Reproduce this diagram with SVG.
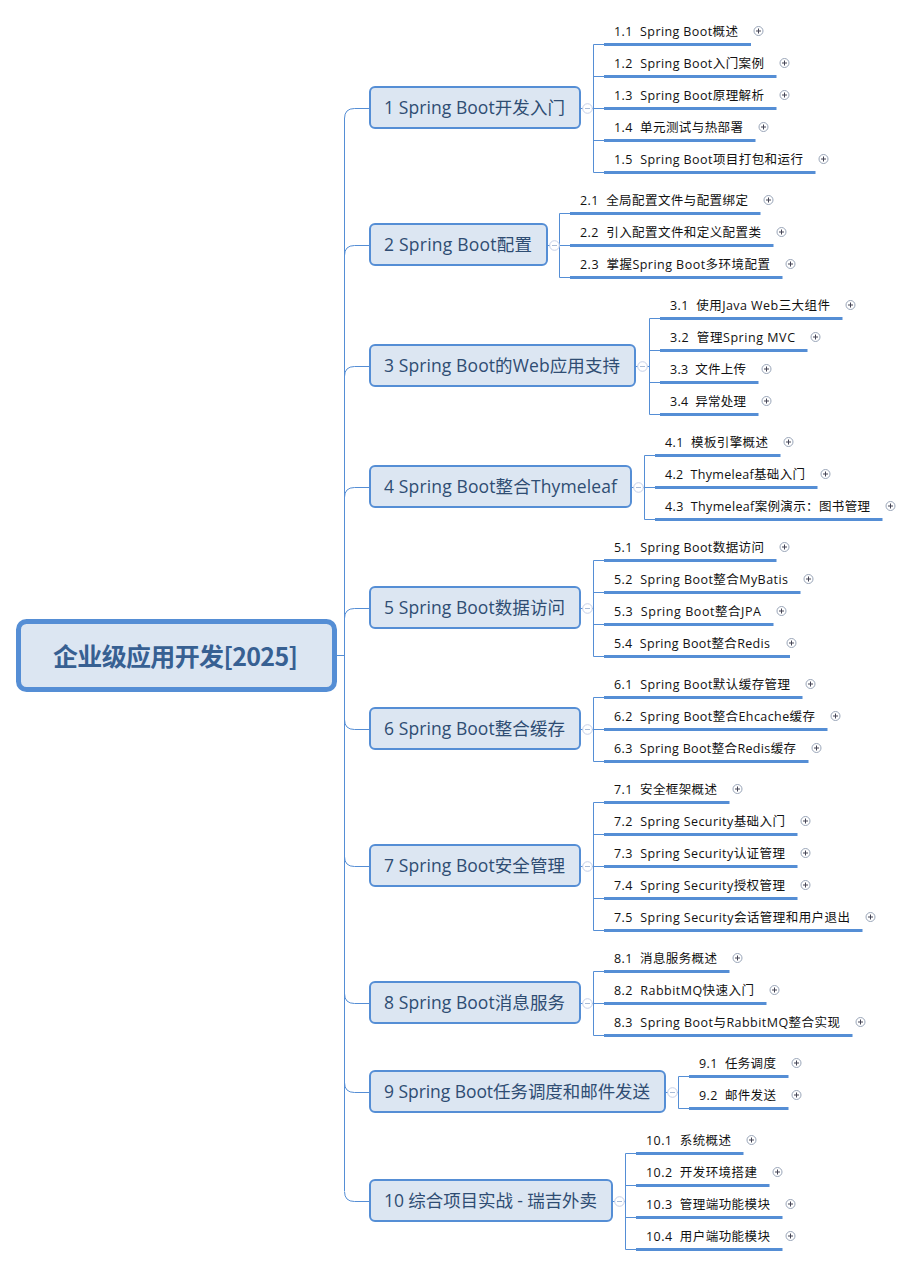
<svg xmlns="http://www.w3.org/2000/svg" width="911" height="1266" viewBox="0 0 911 1266">
<style>
text{font-family:"Noto Sans CJK SC","Noto Sans",sans-serif;dominant-baseline:central;white-space:pre}
.c{fill:none;stroke:#558ed5;stroke-width:1}
.b{fill:none;stroke:#558ed5;stroke-width:3}
.n{fill:#dce6f2;stroke:#558ed5;stroke-width:2}
.t{font-family:"Open Sans","Noto Sans CJK SC",sans-serif;font-size:17.5px;fill:#2f4d73}
.l{font-family:"Open Sans","Noto Sans CJK SC",sans-serif;font-size:12.5px;fill:#111}
.r{font-size:25px;font-weight:700;fill:#376092;text-anchor:middle}
.o{fill:#fff;stroke:#c6d0e8;stroke-width:1}
.m{stroke:#a9bbd6;stroke-width:1;fill:none}
.p{fill:#fff;stroke:#99a5b8;stroke-width:1}
.q{stroke:#445;stroke-width:1;fill:none}
</style>
<defs>
<g id="plus"><circle class="p" r="4.500"/><path class="q" d="M-2.500 0H2.500M0-2.500V2.500"/></g>
<g id="minus"><circle class="o" r="4.800"/><path class="m" d="M-2.500 0H2.500"/></g>
</defs>
<g id="connectors">
<path class="c" d="M336 655.500H344.500M344.500 118V1191"/>
<path class="c" d="M370 108.500H354.500Q344.500 108.500 344.500 118.500M370 245.500H354.500Q344.500 245.500 344.500 255.500M370 366.500H354.500Q344.500 366.500 344.500 376.500M370 487.500H354.500Q344.500 487.500 344.500 497.500M370 608.500H354.500Q344.500 608.500 344.500 618.500M370 729.500H354.500Q344.500 729.500 344.500 719.500M370 866.500H354.500Q344.500 866.500 344.500 856.500M370 1003.500H354.500Q344.500 1003.500 344.500 993.500M370 1092.500H354.500Q344.500 1092.500 344.500 1082.500M370 1201.500H354.500Q344.500 1201.500 344.500 1191.500"/>
<path class="c" d="M580 108.500H593.500M593.500 44.500V172.500M593.500 44.500H604M593.500 76.500H604M593.500 108.500H604M593.500 140.500H604M593.500 172.500H604"/>
<path class="c" d="M547 245.500H559.500M559.500 213.500V277.500M559.500 213.500H570M559.500 245.500H570M559.500 277.500H570"/>
<path class="c" d="M635 366.500H649.500M649.500 318.500V414.500M649.500 318.500H660M649.500 350.500H660M649.500 382.500H660M649.500 414.500H660"/>
<path class="c" d="M631 487.500H644.500M644.500 455.500V519.500M644.500 455.500H655M644.500 487.500H655M644.500 519.500H655"/>
<path class="c" d="M580 608.500H593.500M593.500 560.500V656.500M593.500 560.500H604M593.500 592.500H604M593.500 624.500H604M593.500 656.500H604"/>
<path class="c" d="M580 729.500H593.500M593.500 697.500V761.500M593.500 697.500H604M593.500 729.500H604M593.500 761.500H604"/>
<path class="c" d="M580 866.500H593.500M593.500 802.500V930.500M593.500 802.500H604M593.500 834.500H604M593.500 866.500H604M593.500 898.500H604M593.500 930.500H604"/>
<path class="c" d="M580 1003.500H593.500M593.500 971.500V1035.500M593.500 971.500H604M593.500 1003.500H604M593.500 1035.500H604"/>
<path class="c" d="M665 1092.500H678.500M678.500 1076.500V1108.500M678.500 1076.500H689M678.500 1108.500H689"/>
<path class="c" d="M612 1201.500H625.500M625.500 1153.500V1249.500M625.500 1153.500H636M625.500 1185.500H636M625.500 1217.500H636M625.500 1249.500H636"/>
<path class="b" d="M604 44.500H751M604 76.500H776.500M604 108.500H776.500M604 140.500H755.500M604 172.500H815.500"/>
<path class="b" d="M570 213.500H760.500M570 245.500H773.500M570 277.500H782.500"/>
<path class="b" d="M660 318.500H842.500M660 350.500H807.500M660 382.500H758.500M660 414.500H758.500"/>
<path class="b" d="M655 455.500H780.500M655 487.500H817.500M655 519.500H882.500"/>
<path class="b" d="M604 560.500H776.500M604 592.500H800.500M604 624.500H773.500M604 656.500H790"/>
<path class="b" d="M604 697.500H802.500M604 729.500H827.500M604 761.500H808.500"/>
<path class="b" d="M604 802.500H729.500M604 834.500H797.500M604 866.500H797.500M604 898.500H797.500M604 930.500H862.500"/>
<path class="b" d="M604 971.500H729.500M604 1003.500H766.500M604 1035.500H852.500"/>
<path class="b" d="M689 1076.500H788.500M689 1108.500H788.500"/>
<path class="b" d="M636 1153.500H743.500M636 1185.500H769.500M636 1217.500H782.500M636 1249.500H782.500"/>
</g>
<g id="root"><rect x="18.500" y="621.500" width="316" height="68" rx="8" fill="#dce6f2" stroke="#558ed5" stroke-width="5"/><text class="r" x="175.500" y="654.500" textLength="245">企业级应用开发[2025]</text></g>
<g id="n1"><rect class="n" x="370" y="87" width="210" height="41" rx="5"/><text class="t" x="384" y="107" textLength="181">1 Spring Boot开发入门</text><use href="#minus" x="587.500" y="108.500"/></g>
<g id="n2"><rect class="n" x="370" y="224" width="177" height="41" rx="5"/><text class="t" x="384" y="244" textLength="148">2 Spring Boot配置</text><use href="#minus" x="554.500" y="245.500"/></g>
<g id="n3"><rect class="n" x="370" y="345" width="265" height="41" rx="5"/><text class="t" x="384" y="365" textLength="236">3 Spring Boot的Web应用支持</text><use href="#minus" x="642.500" y="366.500"/></g>
<g id="n4"><rect class="n" x="370" y="466" width="261" height="41" rx="5"/><text class="t" x="384" y="486" textLength="233">4 Spring Boot整合Thymeleaf</text><use href="#minus" x="638.500" y="487.500"/></g>
<g id="n5"><rect class="n" x="370" y="587" width="210" height="41" rx="5"/><text class="t" x="384" y="607" textLength="181">5 Spring Boot数据访问</text><use href="#minus" x="587.500" y="608.500"/></g>
<g id="n6"><rect class="n" x="370" y="708" width="210" height="41" rx="5"/><text class="t" x="384" y="728" textLength="181">6 Spring Boot整合缓存</text><use href="#minus" x="587.500" y="729.500"/></g>
<g id="n7"><rect class="n" x="370" y="845" width="210" height="41" rx="5"/><text class="t" x="384" y="865" textLength="181">7 Spring Boot安全管理</text><use href="#minus" x="587.500" y="866.500"/></g>
<g id="n8"><rect class="n" x="370" y="982" width="210" height="41" rx="5"/><text class="t" x="384" y="1002" textLength="181">8 Spring Boot消息服务</text><use href="#minus" x="587.500" y="1003.500"/></g>
<g id="n9"><rect class="n" x="370" y="1071" width="295" height="41" rx="5"/><text class="t" x="384" y="1091" textLength="266">9 Spring Boot任务调度和邮件发送</text><use href="#minus" x="672.500" y="1092.500"/></g>
<g id="n10"><rect class="n" x="370" y="1180" width="242" height="41" rx="5"/><text class="t" x="384" y="1200" textLength="213">10 综合项目实战 - 瑞吉外卖</text><use href="#minus" x="619.500" y="1201.500"/></g>
<g id="l1-1"><text class="l" x="614" y="31" textLength="124">1.1  Spring Boot概述</text><use href="#plus" x="758.500" y="31"/></g>
<g id="l1-2"><text class="l" x="614" y="63" textLength="150">1.2  Spring Boot入门案例</text><use href="#plus" x="784.500" y="63"/></g>
<g id="l1-3"><text class="l" x="614" y="95" textLength="150">1.3  Spring Boot原理解析</text><use href="#plus" x="784.500" y="95"/></g>
<g id="l1-4"><text class="l" x="614" y="127" textLength="129">1.4  单元测试与热部署</text><use href="#plus" x="763.500" y="127"/></g>
<g id="l1-5"><text class="l" x="614" y="159" textLength="189">1.5  Spring Boot项目打包和运行</text><use href="#plus" x="823.500" y="159"/></g>
<g id="l2-1"><text class="l" x="580" y="200" textLength="168">2.1  全局配置文件与配置绑定</text><use href="#plus" x="768.500" y="200"/></g>
<g id="l2-2"><text class="l" x="580" y="232" textLength="181">2.2  引入配置文件和定义配置类</text><use href="#plus" x="781.500" y="232"/></g>
<g id="l2-3"><text class="l" x="580" y="264" textLength="190">2.3  掌握Spring Boot多环境配置</text><use href="#plus" x="790.500" y="264"/></g>
<g id="l3-1"><text class="l" x="670" y="305" textLength="160">3.1  使用Java Web三大组件</text><use href="#plus" x="850.500" y="305"/></g>
<g id="l3-2"><text class="l" x="670" y="337" textLength="125">3.2  管理Spring MVC</text><use href="#plus" x="815.500" y="337"/></g>
<g id="l3-3"><text class="l" x="670" y="369" textLength="76">3.3  文件上传</text><use href="#plus" x="766.500" y="369"/></g>
<g id="l3-4"><text class="l" x="670" y="401" textLength="76">3.4  异常处理</text><use href="#plus" x="766.500" y="401"/></g>
<g id="l4-1"><text class="l" x="665" y="442" textLength="103">4.1  模板引擎概述</text><use href="#plus" x="788.500" y="442"/></g>
<g id="l4-2"><text class="l" x="665" y="474" textLength="140">4.2  Thymeleaf基础入门</text><use href="#plus" x="825.500" y="474"/></g>
<g id="l4-3"><text class="l" x="665" y="506" textLength="205">4.3  Thymeleaf案例演示：图书管理</text><use href="#plus" x="890.500" y="506"/></g>
<g id="l5-1"><text class="l" x="614" y="547" textLength="150">5.1  Spring Boot数据访问</text><use href="#plus" x="784.500" y="547"/></g>
<g id="l5-2"><text class="l" x="614" y="579" textLength="174">5.2  Spring Boot整合MyBatis</text><use href="#plus" x="808.500" y="579"/></g>
<g id="l5-3"><text class="l" x="614" y="611" textLength="147">5.3  Spring Boot整合JPA</text><use href="#plus" x="781.500" y="611"/></g>
<g id="l5-4"><text class="l" x="614" y="643" textLength="156">5.4  Spring Boot整合Redis</text><use href="#plus" x="791.500" y="643"/></g>
<g id="l6-1"><text class="l" x="614" y="684" textLength="176">6.1  Spring Boot默认缓存管理</text><use href="#plus" x="810.500" y="684"/></g>
<g id="l6-2"><text class="l" x="614" y="716" textLength="201">6.2  Spring Boot整合Ehcache缓存</text><use href="#plus" x="835.500" y="716"/></g>
<g id="l6-3"><text class="l" x="614" y="748" textLength="182">6.3  Spring Boot整合Redis缓存</text><use href="#plus" x="816.500" y="748"/></g>
<g id="l7-1"><text class="l" x="614" y="789" textLength="103">7.1  安全框架概述</text><use href="#plus" x="737.500" y="789"/></g>
<g id="l7-2"><text class="l" x="614" y="821" textLength="171">7.2  Spring Security基础入门</text><use href="#plus" x="805.500" y="821"/></g>
<g id="l7-3"><text class="l" x="614" y="853" textLength="171">7.3  Spring Security认证管理</text><use href="#plus" x="805.500" y="853"/></g>
<g id="l7-4"><text class="l" x="614" y="885" textLength="171">7.4  Spring Security授权管理</text><use href="#plus" x="805.500" y="885"/></g>
<g id="l7-5"><text class="l" x="614" y="917" textLength="236">7.5  Spring Security会话管理和用户退出</text><use href="#plus" x="870.500" y="917"/></g>
<g id="l8-1"><text class="l" x="614" y="958" textLength="103">8.1  消息服务概述</text><use href="#plus" x="737.500" y="958"/></g>
<g id="l8-2"><text class="l" x="614" y="990" textLength="140">8.2  RabbitMQ快速入门</text><use href="#plus" x="774.500" y="990"/></g>
<g id="l8-3"><text class="l" x="614" y="1022" textLength="226">8.3  Spring Boot与RabbitMQ整合实现</text><use href="#plus" x="860.500" y="1022"/></g>
<g id="l9-1"><text class="l" x="699" y="1063" textLength="77">9.1  任务调度</text><use href="#plus" x="796.500" y="1063"/></g>
<g id="l9-2"><text class="l" x="699" y="1095" textLength="77">9.2  邮件发送</text><use href="#plus" x="796.500" y="1095"/></g>
<g id="l10-1"><text class="l" x="646" y="1140" textLength="85">10.1  系统概述</text><use href="#plus" x="751.500" y="1140"/></g>
<g id="l10-2"><text class="l" x="646" y="1172" textLength="111">10.2  开发环境搭建</text><use href="#plus" x="777.500" y="1172"/></g>
<g id="l10-3"><text class="l" x="646" y="1204" textLength="124">10.3  管理端功能模块</text><use href="#plus" x="790.500" y="1204"/></g>
<g id="l10-4"><text class="l" x="646" y="1236" textLength="124">10.4  用户端功能模块</text><use href="#plus" x="790.500" y="1236"/></g>
</svg>
